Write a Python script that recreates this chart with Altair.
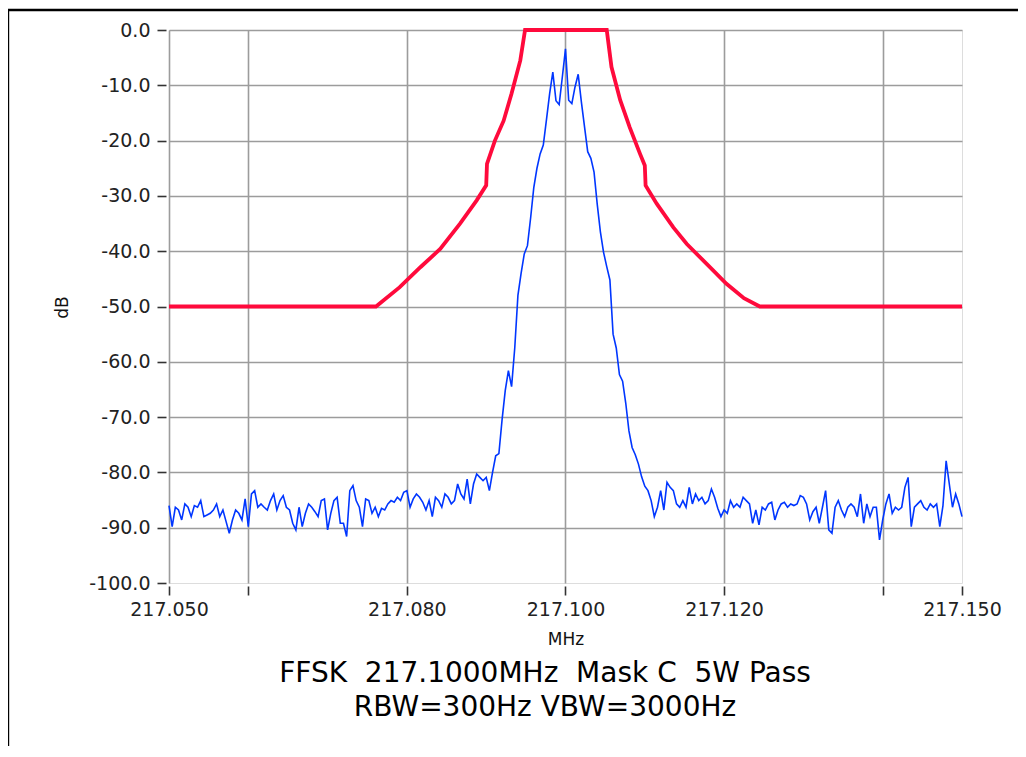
import altair as alt
import pandas as pd

# ---------------- data ----------------
freq_start = 217.050   # MHz, first analyser bin
freq_step = 0.0004     # MHz between plotted bins

spectrum_db = [
    -86.0, -89.8, -86.3, -86.8, -88.6, -85.7, -86.3, -88.0, -86.0, -86.3,
    -85.1, -88.0, -87.7, -87.4, -86.8, -85.7, -88.0, -86.8, -88.9, -91.0,
    -88.6, -86.8, -87.4, -88.6, -84.8, -89.8, -83.9, -83.3, -86.3, -85.7,
    -86.3, -86.8, -85.1, -83.9, -86.8, -85.1, -84.2, -86.3, -86.8, -89.2,
    -90.4, -86.3, -89.8, -87.4, -85.7, -86.3, -87.1, -88.0, -85.1, -84.8,
    -90.4, -87.4, -85.1, -84.5, -89.2, -89.2, -91.6, -83.3, -82.4, -85.1,
    -86.3, -89.8, -84.8, -85.1, -87.4, -86.3, -88.0, -86.5, -86.8, -85.7,
    -85.1, -85.4, -84.5, -85.1, -83.6, -83.3, -86.3, -84.8, -83.9, -84.5,
    -85.4, -86.8, -85.1, -88.0, -84.5, -85.1, -86.3, -83.9, -84.5, -85.7,
    -85.1, -82.1, -83.9, -84.8, -81.2, -85.7, -82.1, -80.3, -80.9, -81.5,
    -80.9, -83.3, -80.0, -77.0, -76.6, -70.5, -65.2, -61.6, -64.5, -57.5,
    -48.0, -44.0, -40.5, -39.0, -34.0, -28.5, -25.0, -22.4, -20.8, -16.2,
    -11.5, -7.6, -12.8, -13.5, -8.5, -3.4, -12.7, -13.3, -10.3, -8.0,
    -13.0, -17.5, -22.0, -23.2, -25.7, -31.5, -36.5, -40.2, -42.8, -45.2,
    -55.0, -57.5, -62.3, -63.5, -67.5, -72.5, -75.5, -76.8, -78.5, -80.8,
    -82.5, -83.3, -85.1, -88.0, -86.3, -83.3, -86.8, -81.8, -82.7, -83.3,
    -85.7, -86.3, -85.1, -86.3, -82.7, -85.7, -83.9, -85.1, -84.5, -85.7,
    -85.1, -83.0, -84.5, -86.5, -88.0, -86.8, -87.4, -85.1, -86.3, -85.7,
    -86.3, -84.5, -85.1, -85.7, -89.2, -86.8, -89.5, -86.3, -86.8, -85.7,
    -85.4, -88.6, -86.8, -85.7, -85.4, -86.3, -85.7, -86.0, -85.7, -84.2,
    -84.5, -85.7, -88.6, -87.1, -86.3, -89.2, -86.3, -83.3, -90.4, -91.0,
    -86.3, -85.1, -86.8, -88.0, -86.3, -85.7, -86.3, -88.0, -83.9, -89.2,
    -85.7, -88.0, -86.3, -86.3, -92.2, -88.6, -85.7, -83.9, -87.4, -86.3,
    -86.8, -86.3, -82.7, -80.9, -89.8, -86.3, -85.7, -85.1, -86.3, -86.8,
    -85.7, -86.3, -85.7, -89.8, -86.0, -77.9, -82.1, -86.3, -83.9, -85.7,
    -88.0,
]
spectrum_freq = [round(freq_start + freq_step * i, 4) for i in range(len(spectrum_db))]

mask_freq = [217.0500, 217.0761, 217.0791, 217.0817, 217.0842, 217.0867, 217.0888,
             217.0900, 217.0901, 217.0911, 217.0922, 217.0932, 217.0943, 217.0949,
             217.1052, 217.1058, 217.1069, 217.1081, 217.1094, 217.1100, 217.1101,
             217.1115, 217.1136, 217.1153, 217.1178, 217.1203, 217.1225, 217.1245,
             217.1500]
mask_db = [-50, -50, -46.5, -42.9, -39.6, -35.0, -30.8,
           -28.1, -24.2, -20.0, -16.4, -11.5, -5.5, 0,
           0, -6.7, -12.7, -17.6, -22.4, -24.5, -28.1,
           -31.4, -35.7, -38.7, -42.3, -45.9, -48.5, -50,
           -50]

x_ticks = [217.05, 217.06, 217.08, 217.10, 217.12, 217.14, 217.15]
x_unlabelled = [217.06, 217.14]
y_ticks = [0, -10, -20, -30, -40, -50, -60, -70, -80, -90, -100]

x_title = "MHz"
y_title = "dB"
# double gaps kept with no-break spaces so the SVG text does not collapse them
title_lines = ["FFSK \u00a0217.1000MHz \u00a0Mask C \u00a05W Pass", "RBW=300Hz VBW=3000Hz"]

# ---------------- chart ----------------
FONT = "DejaVu Sans"
W, H = 793, 553

spec_df = pd.DataFrame({"freq": spectrum_freq, "db": spectrum_db})
mask_df = pd.DataFrame({"freq": mask_freq, "db": mask_db, "idx": range(len(mask_db))})

hide_expr = " || ".join(f"abs(datum.value - {v}) < 0.00001" for v in x_unlabelled)

x_axis = alt.Axis(
    values=x_ticks,
    labelExpr=f"({hide_expr}) ? '' : format(datum.value, '.3f')",
    title=x_title, titleFont=FONT, titleFontSize=17, titleFontWeight="normal",
    titleColor="#111", titleY=53, titleBaseline="middle",
    labelFont=FONT, labelFontSize=19, labelColor="#222", labelPadding=5,
    labelOverlap=False, labelFlush=False,
    domain=False, offset=3, ticks=True, tickSize=9, tickWidth=1.6, tickColor="#333",
    grid=True, gridColor="#9c9c9c", gridWidth=1.6,
    gridOpacity={"condition": {"test": "datum.value > 217.1499", "value": 0}, "value": 1},
)
y_axis = alt.Axis(
    values=y_ticks,
    labelExpr="datum.value == 0 ? '0.0' : '-' + format(-datum.value, '.1f')",
    title=y_title, titleFont=FONT, titleFontSize=17, titleFontWeight="normal",
    titleColor="#111", titleX=-104, titleY=277, titleAngle=270,
    titleAlign="center", titleBaseline="middle",
    labelFont=FONT, labelFontSize=19, labelColor="#222", labelPadding=7,
    labelOverlap=False,
    domain=False, offset=3, ticks=True, tickSize=9, tickWidth=1.6, tickColor="#333",
    grid=True, gridColor="#9c9c9c", gridWidth=1.6,
    gridOpacity={"condition": {"test": "datum.value < -99.9", "value": 0}, "value": 1},
)

x_enc = alt.X("freq:Q", scale=alt.Scale(domain=[217.05, 217.15], nice=False, zero=False), axis=x_axis)
y_enc = alt.Y("db:Q", scale=alt.Scale(domain=[-100, 0], nice=False, zero=False), axis=y_axis)

spectrum = alt.Chart(spec_df).mark_line(color="#0036ff", strokeWidth=1.6).encode(x=x_enc, y=y_enc)
mask = alt.Chart(mask_df).mark_line(color="#ff0a3c", strokeWidth=3.8, strokeJoin="miter").encode(
    x=x_enc, y=y_enc, order="idx:Q")

one = pd.DataFrame({"k": [0]})
border = alt.Chart(one).mark_rect(fill="white", fillOpacity=0, stroke="black", strokeWidth=2.4).encode(
    x=alt.value(-161), x2=alt.value(1000), y=alt.value(-20), y2=alt.value(900))

title = alt.Chart(one).mark_text(
    text=title_lines, font=FONT, fontSize=28, color="black", lineHeight=34,
    align="center", baseline="middle").encode(x=alt.value(376), y=alt.value(644))

chart = alt.layer(border, spectrum, mask, title).properties(
    width=W, height=H,
    autosize=alt.AutoSizeParams(type="none"),
    padding={"left": 161, "top": 22, "right": 56, "bottom": 163},
).configure_view(stroke="#dadada", strokeWidth=2).configure(background="white")

chart.save("out.html", embed_options={"renderer": "svg", "actions": False})
